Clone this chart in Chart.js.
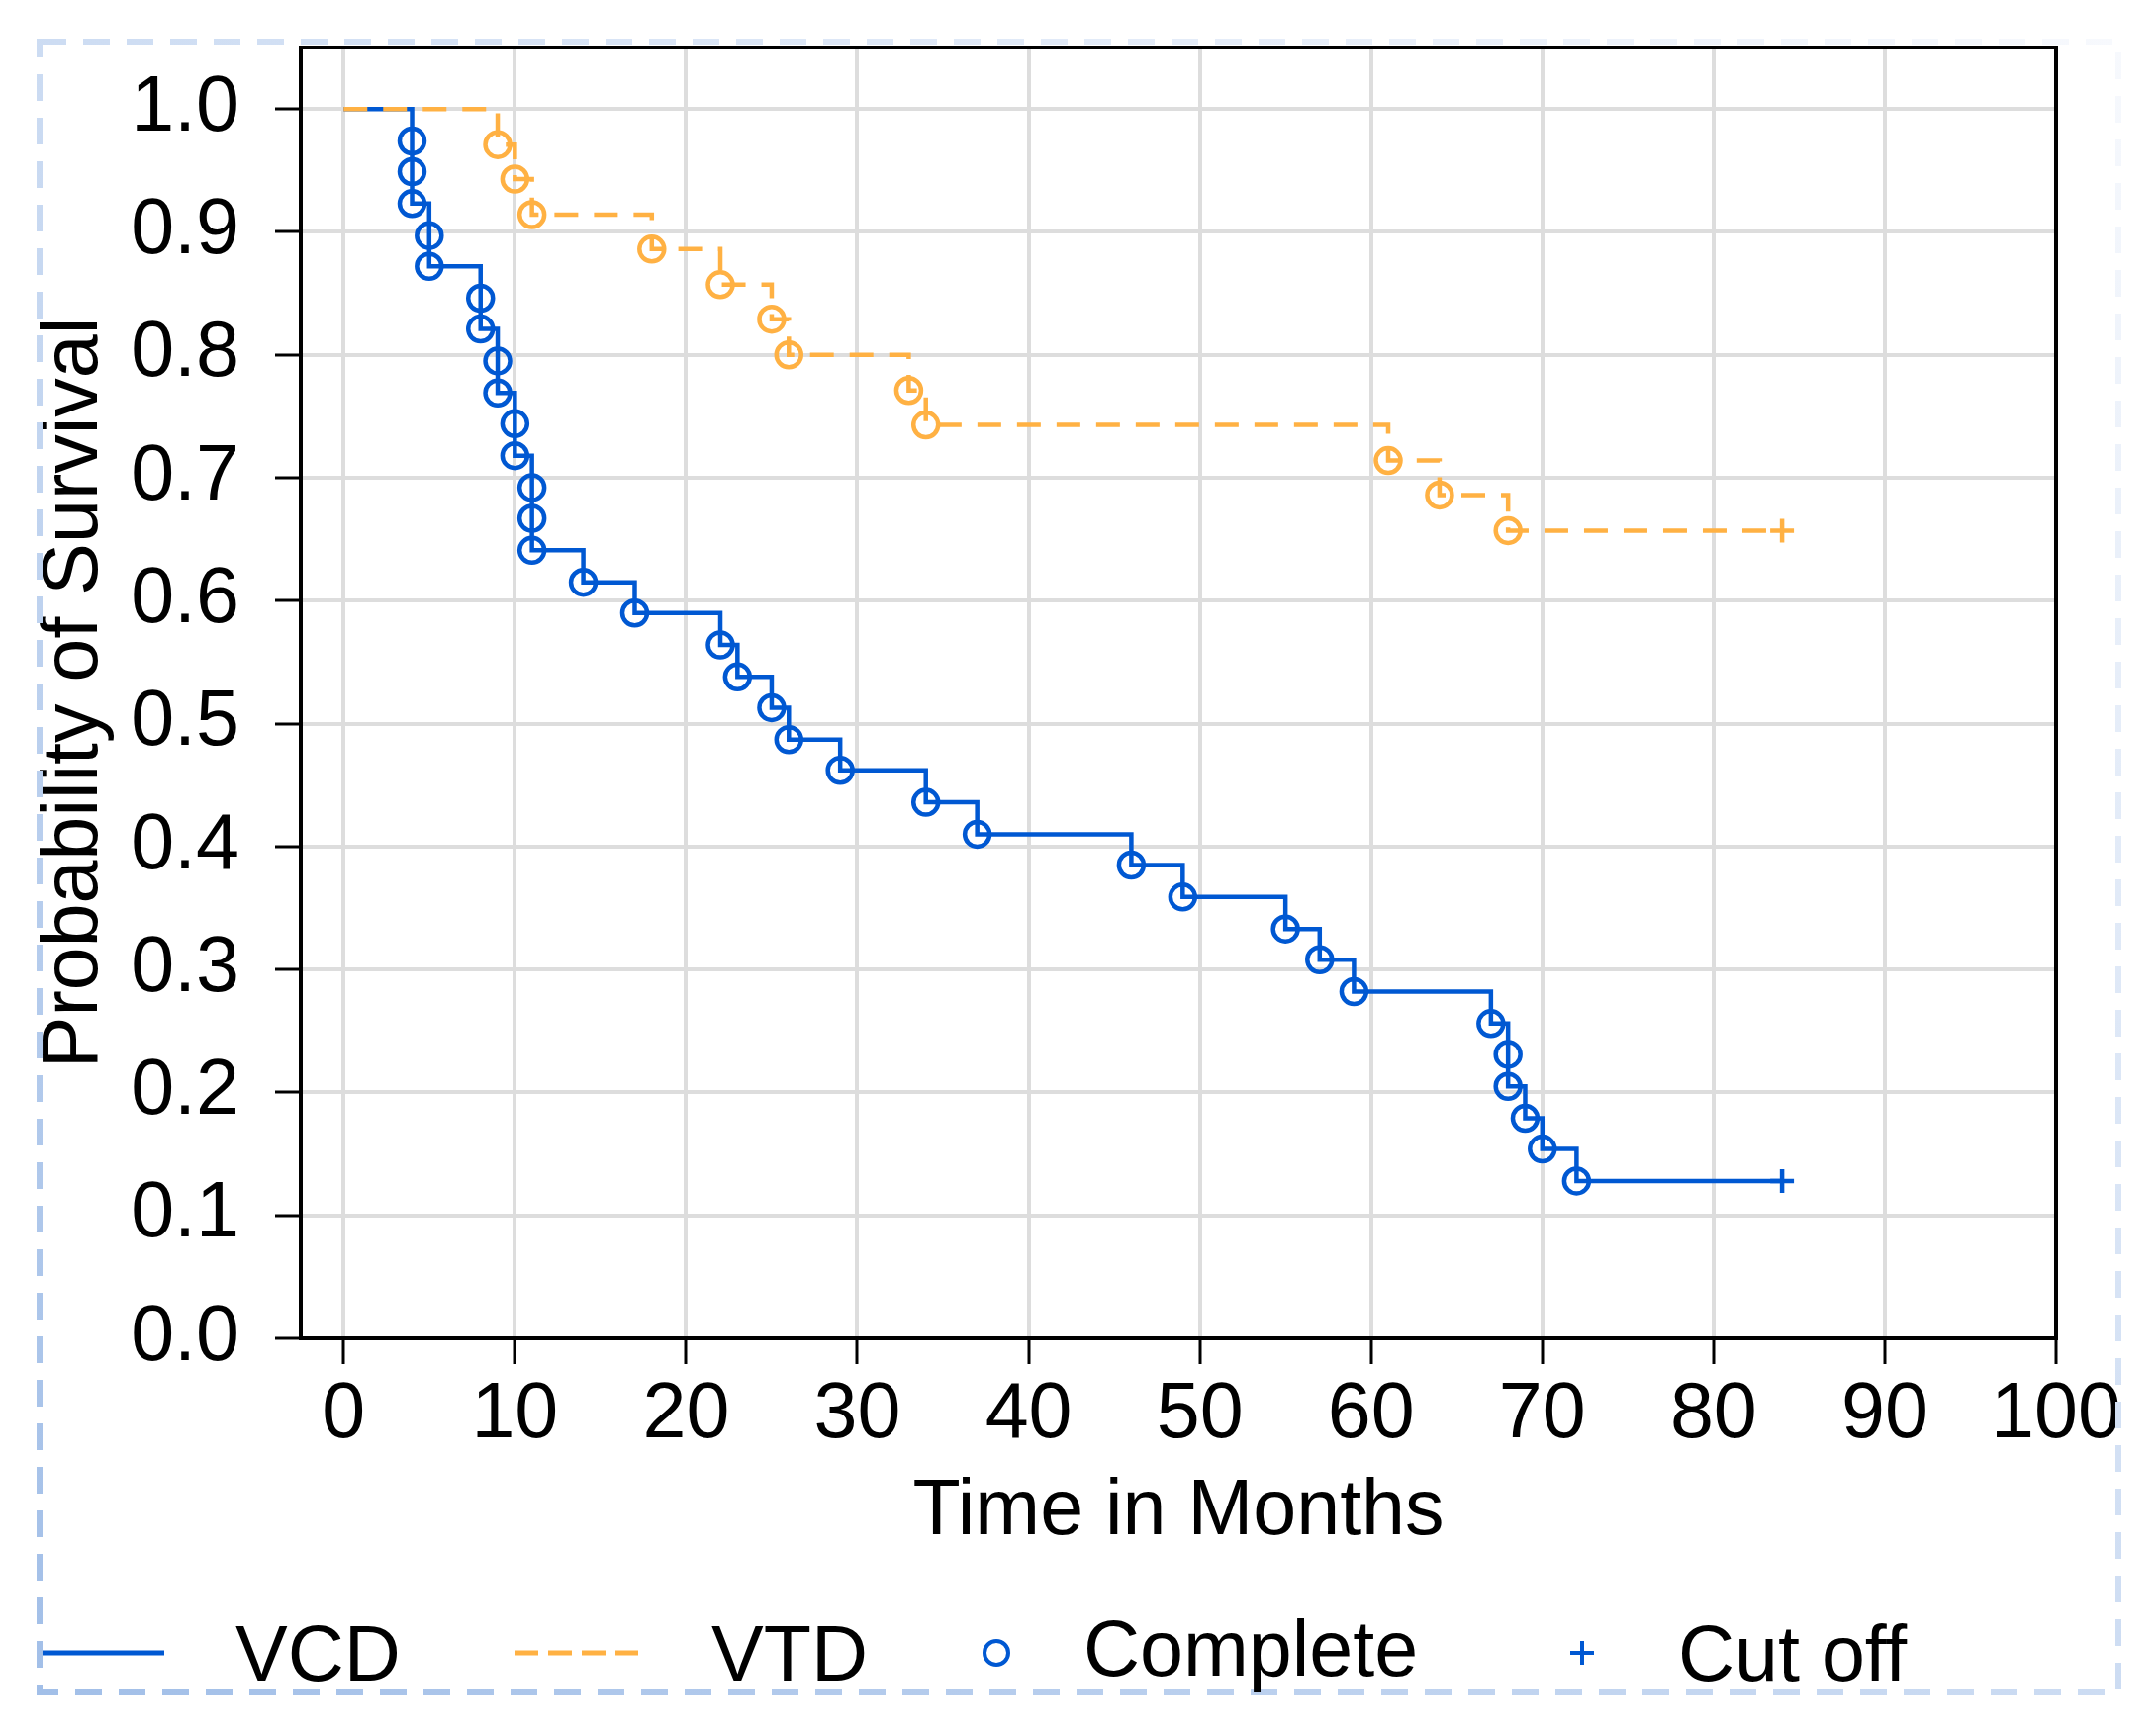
<!DOCTYPE html>
<html>
<head>
<meta charset="utf-8">
<script src="https://cdn.jsdelivr.net/npm/chart.js@4.4.0/dist/chart.umd.min.js"></script>
<style>
  html, body { margin:0; padding:0; background:#ffffff; width:2179px; height:1753px; overflow:hidden; }
  #wrap { position:relative; width:2179px; height:1753px; }
  #c { position:absolute; left:0; top:0; }
  #frame { position:absolute; left:0; top:0; pointer-events:none; }
  .lg { position:absolute; font-family:"Liberation Sans", Arial, sans-serif; font-size:79px; line-height:79px; color:#000; white-space:nowrap; }
  .sym { position:absolute; overflow:visible; }
</style>
</head>
<body>
<div id="wrap">
  <canvas id="c" width="2179" height="1753"></canvas>
  <svg id="frame" width="2179" height="1753">
    <defs>
      <linearGradient id="fg" x1="1" y1="0" x2="0" y2="1">
        <stop offset="0" stop-color="#f7f9fd"/>
        <stop offset="1" stop-color="#a2bfe8"/>
      </linearGradient>
    </defs>
    <rect x="40" y="42" width="2101" height="1669" fill="none" stroke="url(#fg)" stroke-width="6" stroke-dasharray="27 17"/>
  </svg>
  <!-- legend -->
  <svg class="sym" style="left:43px;top:1651px" width="124" height="40"><line x1="0" y1="20" x2="123" y2="20" stroke="#0058d2" stroke-width="5"/></svg>
  <div class="lg" style="left:238px;top:1632px">VCD</div>
  <svg class="sym" style="left:520px;top:1651px" width="126" height="40"><line x1="0" y1="20" x2="125" y2="20" stroke="#ffb143" stroke-width="5" stroke-dasharray="24 10"/></svg>
  <div class="lg" style="left:719px;top:1632px">VTD</div>
  <svg class="sym" style="left:987px;top:1651px" width="40" height="40"><circle cx="20" cy="20" r="12" fill="none" stroke="#0058d2" stroke-width="4"/></svg>
  <div class="lg" style="left:1095px;top:1627px">Complete</div>
  <svg class="sym" style="left:1579px;top:1651px" width="40" height="40"><line x1="8" y1="20" x2="32" y2="20" stroke="#0058d2" stroke-width="4"/><line x1="20" y1="8" x2="20" y2="32" stroke="#0058d2" stroke-width="4"/></svg>
  <div class="lg" style="left:1696px;top:1632px">Cut off</div>
</div>
<script>
// ---- data ----
const vcdTimes = [0, 4, 4, 4, 5, 5, 8, 8, 9, 9, 10, 10, 11, 11, 11, 14, 17, 22, 23, 25, 26, 29, 34, 37, 46, 49, 55, 57, 59, 67, 68, 68, 69, 70, 72, 84];
const vcdSurv  = [1.0, 0.974, 0.949, 0.923, 0.897, 0.872, 0.846, 0.821, 0.795, 0.769, 0.744, 0.718, 0.692, 0.667, 0.641, 0.615, 0.590, 0.564, 0.538, 0.513, 0.487, 0.462, 0.436, 0.410, 0.385, 0.359, 0.333, 0.308, 0.282, 0.256, 0.231, 0.205, 0.179, 0.154, 0.128, 0.128];
const vtdTimes = [0, 9, 10, 11, 18, 22, 25, 26, 33, 34, 61, 64, 68, 84];
const vtdSurv  = [1.0, 0.971, 0.943, 0.914, 0.886, 0.857, 0.829, 0.800, 0.771, 0.743, 0.714, 0.686, 0.657, 0.657];
const xTickValues = [0, 10, 20, 30, 40, 50, 60, 70, 80, 90, 100];
const xTickLabels = ['0', '10', '20', '30', '40', '50', '60', '70', '80', '90', '100'];
const yTickValues = [0, 0.1, 0.2, 0.3, 0.4, 0.5, 0.6, 0.7, 0.8, 0.9, 1.0];
const yTickLabels = ['0.0', '0.1', '0.2', '0.3', '0.4', '0.5', '0.6', '0.7', '0.8', '0.9', '1.0'];

const BLUE = '#0058d2';
const ORANGE = '#ffb143';
const FONT = "'Liberation Sans', Arial, sans-serif";

function toPts(t, s) { return t.map((x, i) => ({ x: x, y: s[i] })); }
const vcdPts = toPts(vcdTimes, vcdSurv);
const vtdPts = toPts(vtdTimes, vtdSurv);

const frameBox = {
  id: 'frameBox',
  afterDatasetsDraw(chart) {
    const a = chart.chartArea, ctx = chart.ctx;
    ctx.save();
    ctx.strokeStyle = '#000';
    ctx.lineWidth = 4;
    ctx.strokeRect(a.left, a.top, a.right - a.left, a.bottom - a.top);
    ctx.restore();
  }
};

function markerSet(label, pts, color, style, radius) {
  return {
    label: label, type: 'scatter', data: pts, order: 0,
    pointStyle: style, pointRadius: radius, pointHoverRadius: radius,
    pointBorderColor: color, pointBackgroundColor: 'rgba(0,0,0,0)', pointBorderWidth: 4.5,
    borderColor: color, backgroundColor: 'rgba(0,0,0,0)', showLine: false
  };
}

function noPad(s) { s.paddingTop = 0; s.paddingBottom = 0; s.paddingLeft = 0; s.paddingRight = 0; }

new Chart(document.getElementById('c'), {
  type: 'scatter',
  data: {
    datasets: [
      markerSet('Complete', vcdPts.slice(1, -1), BLUE, 'circle', 12.5),
      markerSet('Complete (VTD)', vtdPts.slice(1, -1), ORANGE, 'circle', 12.5),
      markerSet('Cut off', vcdPts.slice(-1), BLUE, 'cross', 12),
      markerSet('Cut off (VTD)', vtdPts.slice(-1), ORANGE, 'cross', 12),
      { label: 'VTD', type: 'line', data: vtdPts, stepped: 'before', order: 1,
        borderColor: ORANGE, borderWidth: 4.5, borderDash: [24, 16], pointRadius: 0, fill: false },
      { label: 'VCD', type: 'line', data: vcdPts, stepped: 'before', order: 2,
        borderColor: BLUE, borderWidth: 4.5, pointRadius: 0, fill: false }
    ]
  },
  options: {
    responsive: false,
    devicePixelRatio: 1,
    animation: false,
    events: [],
    layout: { padding: { left: 0, top: 48, right: 101, bottom: 0 } },
    plugins: { legend: { display: false }, tooltip: { enabled: false } },
    scales: {
      x: {
        type: 'linear', min: -2.5, max: 100,
        afterBuildTicks: s => { s.ticks = xTickValues.map(v => ({ value: v })); },
        afterFit: s => { s.height = 400; noPad(s); },
        grid: { color: '#dddddd', lineWidth: 4, tickColor: '#000', tickLength: 26, tickWidth: 3, drawTicks: true },
        border: { display: true, color: '#000', width: 4 },
        ticks: { font: { family: FONT, size: 79 }, color: '#000', padding: 5, maxRotation: 0, autoSkip: false,
                 callback: (v, i) => xTickLabels[i] },
        title: { display: true, text: 'Time in Months', color: '#000', font: { family: FONT, size: 79 },
                 padding: { top: 0, bottom: 176 } }
      },
      y: {
        type: 'linear', min: 0, max: 1.05,
        afterBuildTicks: s => { s.ticks = yTickValues.map(v => ({ value: v })); },
        afterFit: s => { s.width = 304; noPad(s); },
        grid: { color: '#dddddd', lineWidth: 4, tickColor: '#000', tickLength: 26, tickWidth: 3, drawTicks: true },
        border: { display: true, color: '#000', width: 4 },
        ticks: { font: { family: FONT, size: 79 }, color: '#000', padding: 36, autoSkip: false,
                 callback: (v, i) => yTickLabels[i] },
        title: { display: true, text: 'Probability of Survival', color: '#000', font: { family: FONT, size: 79 },
                 padding: { top: 29, bottom: 0 } }
      }
    }
  },
  plugins: [frameBox]
});
</script>
</body>
</html>
